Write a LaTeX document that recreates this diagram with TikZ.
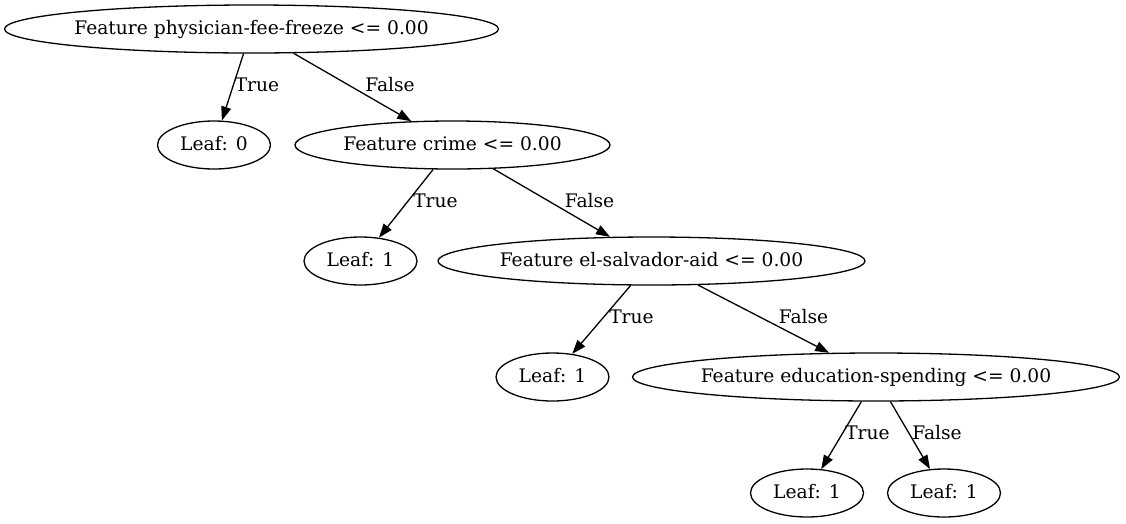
\documentclass[tikz,border=0pt]{standalone}
\usepackage{fontspec}
\setmainfont{DejaVu Serif}
\usetikzlibrary{shapes.geometric,arrows.meta}

\begin{document}
\begin{tikzpicture}[x=1pt,y=-1pt,
		every node/.style={font=\fontsize{18.67}{22}\selectfont},
		tree node/.style={draw, ellipse, line width=1.3pt, inner xsep=-30pt, inner ysep=-10pt,
			text height=15pt, text depth=4.4pt, minimum height=48pt},
		leaf/.style={tree node, minimum width=113pt},
		feature/.style={tree node, minimum width=#1},
		branch/.style={line width=1.3pt, -{Triangle[length=14pt,width=10pt]}},
		lbl/.style={inner sep=0pt}]

		\useasboundingbox (0,0) rectangle (1126,523);

		% nodes
		\node[feature=494pt] (root) at (251.5,29) {Feature physician-fee-freeze <= 0.00};
		\node[leaf] (leaf0) at (214,145) {Leaf: 0};
		\node[feature=315pt] (crime) at (452.5,145) {Feature crime <= 0.00};
		\node[leaf] (leafA) at (360.5,261) {Leaf: 1};
		\node[feature=427pt] (salvador) at (651.5,261) {Feature el-salvador-aid <= 0.00};
		\node[leaf] (leafB) at (552.5,377) {Leaf: 1};
		\node[feature=487pt] (education) at (876,377) {Feature education-spending <= 0.00};
		\node[leaf] (leafC) at (807,493) {Leaf: 1};
		\node[leaf] (leafD) at (944,493) {Leaf: 1};

		% edges
		\draw[branch] (root) -- (leaf0);
		\draw[branch] (root) -- (crime);
		\draw[branch] (crime) -- (leafA);
		\draw[branch] (crime) -- (salvador);
		\draw[branch] (salvador) -- (leafB);
		\draw[branch] (salvador) -- (education);
		\draw[branch] (education) -- (leafC);
		\draw[branch] (education) -- (leafD);

		% edge labels
		\node[lbl] (t1) at (257,85) {True};
		\node[lbl] (f1) at (390,85) {False};
		\node[lbl] (t2) at (435.5,201) {True};
		\node[lbl] (f2) at (589.5,201) {False};
		\node[lbl] (t3) at (631.5,317) {True};
		\node[lbl] (f3) at (803.5,317) {False};
		\node[lbl] (t4) at (867.5,433) {True};
		\node[lbl] (f4) at (937,433) {False};
	\end{tikzpicture}
\end{document}
